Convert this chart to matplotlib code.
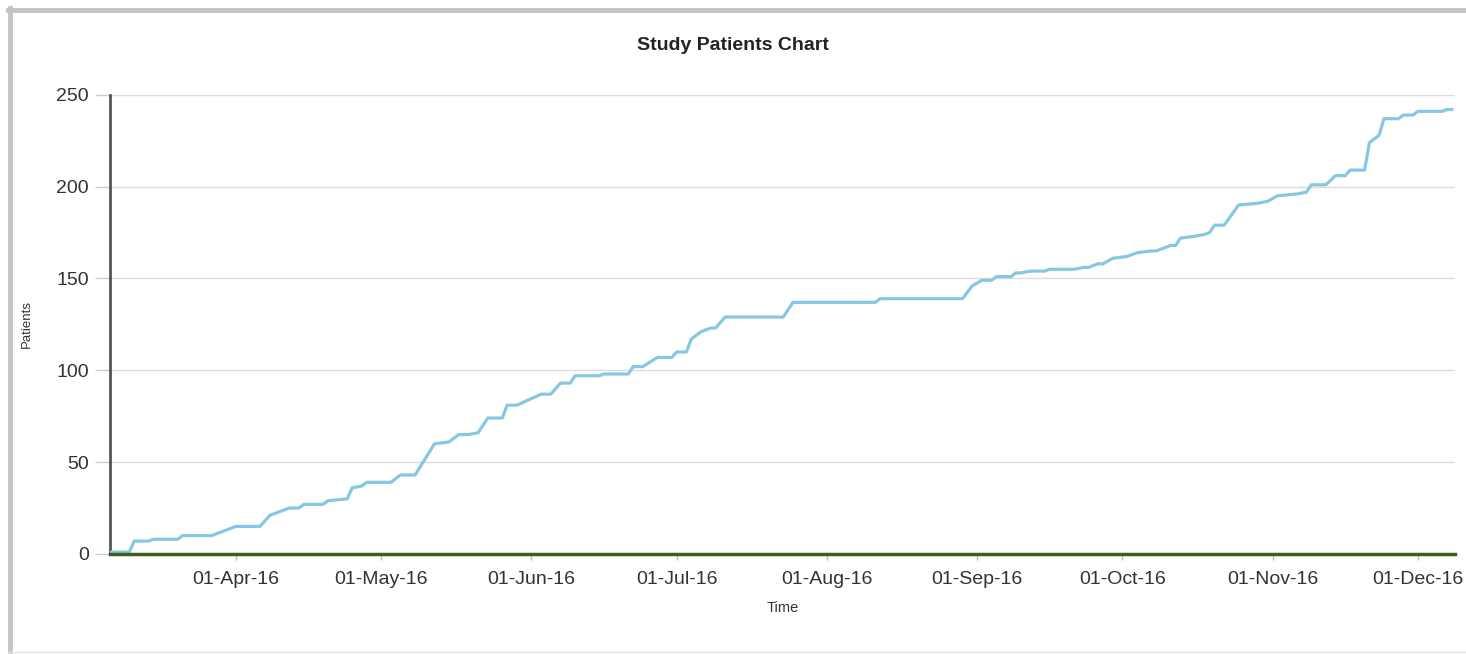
import matplotlib
matplotlib.use('Agg')
import matplotlib.pyplot as plt
import matplotlib.dates as mdates
from matplotlib.lines import Line2D
import pandas as pd

# enrolment breakpoints
dates = [
    '2016-03-06', '2016-03-10', '2016-03-11', '2016-03-14', '2016-03-15', '2016-03-20',
    '2016-03-21', '2016-03-27', '2016-03-28', '2016-03-30', '2016-04-01', '2016-04-06',
    '2016-04-08', '2016-04-09', '2016-04-12', '2016-04-14', '2016-04-15', '2016-04-19',
    '2016-04-20', '2016-04-24', '2016-04-25', '2016-04-27', '2016-04-28', '2016-05-03',
    '2016-05-05', '2016-05-08', '2016-05-12', '2016-05-15', '2016-05-17', '2016-05-19',
    '2016-05-21', '2016-05-23', '2016-05-26', '2016-05-27', '2016-05-29', '2016-06-03',
    '2016-06-05', '2016-06-07', '2016-06-09', '2016-06-10', '2016-06-15', '2016-06-16',
    '2016-06-21', '2016-06-22', '2016-06-24', '2016-06-27', '2016-06-30', '2016-07-01',
    '2016-07-03', '2016-07-04', '2016-07-06', '2016-07-08', '2016-07-09', '2016-07-11',
    '2016-07-23', '2016-07-25', '2016-08-11', '2016-08-12', '2016-08-29', '2016-08-31',
    '2016-09-02', '2016-09-04', '2016-09-05', '2016-09-08', '2016-09-09', '2016-09-10',
    '2016-09-12', '2016-09-15', '2016-09-16', '2016-09-21', '2016-09-23', '2016-09-24',
    '2016-09-26', '2016-09-27', '2016-09-29', '2016-10-02', '2016-10-04', '2016-10-07',
    '2016-10-08', '2016-10-11', '2016-10-12', '2016-10-13', '2016-10-16', '2016-10-18',
    '2016-10-19', '2016-10-20', '2016-10-22', '2016-10-25', '2016-10-29', '2016-10-31',
    '2016-11-02', '2016-11-06', '2016-11-08', '2016-11-09', '2016-11-12', '2016-11-14',
    '2016-11-16', '2016-11-17', '2016-11-20', '2016-11-21', '2016-11-23', '2016-11-24',
    '2016-11-27', '2016-11-28', '2016-11-30', '2016-12-01', '2016-12-06', '2016-12-07',
    '2016-12-08',
]
patients = [
    1, 1, 7, 7, 8, 8,
    10, 10, 11, 13, 15, 15,
    21, 22, 25, 25, 27, 27,
    29, 30, 36, 37, 39, 39,
    43, 43, 60, 61, 65, 65,
    66, 74, 74, 81, 81, 87,
    87, 93, 93, 97, 97, 98,
    98, 102, 102, 107, 107, 110,
    110, 117, 121, 123, 123, 129,
    129, 137, 137, 139, 139, 146,
    149, 149, 151, 151, 153, 153,
    154, 154, 155, 155, 156, 156,
    158, 158, 161, 162, 164, 165,
    165, 168, 168, 172, 173, 174,
    175, 179, 179, 190, 191, 192,
    195, 196, 197, 201, 201, 206,
    206, 209, 209, 224, 228, 237,
    237, 239, 239, 241, 241, 242,
    242,
]
y_ticks = [0, 50, 100, 150, 200, 250]

x = pd.to_datetime(dates)

plt.rcParams['font.family'] = ['Liberation Sans', 'DejaVu Sans']

fig = plt.figure(figsize=(14.66, 6.54), dpi=100)
ax = fig.add_axes([0.075, 0.153, 0.9175, 0.702])

# grey frame around the chart panel
fig.add_artist(Line2D([8 / 1466, 1.01], [1 - 10 / 654] * 2, transform=fig.transFigure,
                      color='#c4c4c4', lw=3.5))
fig.add_artist(Line2D([10 / 1466] * 2, [1 - 8 / 654, 2 / 654], transform=fig.transFigure,
                      color='#c4c4c4', lw=3.5))
fig.add_artist(Line2D([8 / 1466, 1.01], [2 / 654] * 2, transform=fig.transFigure,
                      color='#e2e2e2', lw=1.0))

ax.plot(x, patients, color='#86c8e4', lw=2.3, zorder=3)

ax.set_ylim(0, 250)
ax.set_xlim(pd.Timestamp('2016-03-06'), pd.Timestamp('2016-12-08 16:00'))
ax.set_yticks(y_ticks)
ax.grid(axis='y', color='#dcdcdc', lw=1)
ax.set_axisbelow(True)

ax.xaxis.set_major_locator(mdates.MonthLocator(bymonth=range(4, 13)))
ax.xaxis.set_major_formatter(mdates.DateFormatter('%d-%b-%y'))

for s in ['top', 'right']:
    ax.spines[s].set_visible(False)
ax.spines['left'].set_color('#555555')
ax.spines['left'].set_linewidth(2)
ax.spines['bottom'].set_color('#3f5e1c')
ax.spines['bottom'].set_linewidth(2.5)
ax.spines['bottom'].set_zorder(4)

ax.tick_params(axis='y', length=11, width=1, color='#cccccc', labelsize=14,
               labelcolor='#333333', pad=4)
ax.tick_params(axis='x', length=4, width=1, color='#bbbbbb', labelsize=14,
               labelcolor='#333333', pad=8)

ax.set_ylabel('Patients', fontsize=9.5, color='#333333', labelpad=17)
ax.set_xlabel('Time', fontsize=10.5, color='#333333', labelpad=10)
fig.text(0.5, 0.931, 'Study Patients Chart', ha='center', va='center',
         fontsize=14, fontweight='bold', color='#222222')

fig.savefig('out.png', dpi=100)
